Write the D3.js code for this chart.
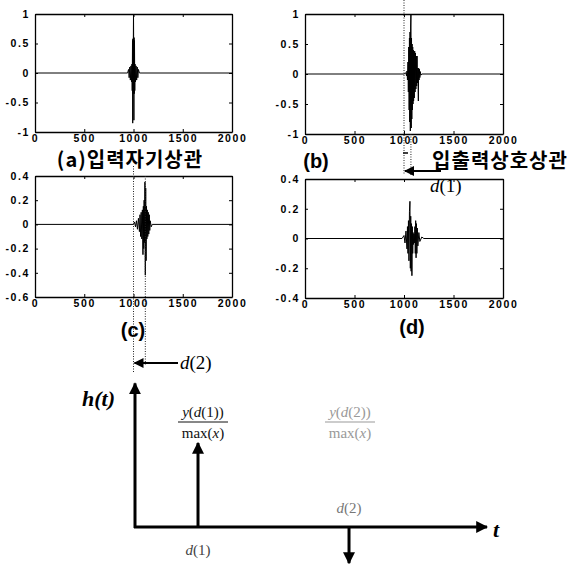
<!DOCTYPE html>
<html><head><meta charset="utf-8">
<script src="https://cdn.jsdelivr.net/npm/d3@7/dist/d3.min.js"></script>
<style>
body{margin:0;background:#fff;}
svg{display:block;}
.tick text{font-family:"Liberation Sans",Arial,sans-serif;font-weight:bold;font-size:10.5px;letter-spacing:1.6px;fill:#000;}
.cap{font-family:"Noto Sans CJK KR",sans-serif;font-weight:bold;font-size:20px;fill:#000;}
.capl{font-family:"Liberation Sans",Arial,sans-serif;font-weight:bold;font-size:20px;fill:#000;}
.ser{font-family:"Liberation Serif","Times New Roman",serif;}
</style></head><body>
<svg id="chart" width="577" height="564"></svg>
<script>
// ---------- data ----------
const xTicks = [0, 500, 1000, 1500, 2000];
const yTicksAB = [-1, -0.5, 0, 0.5, 1];
const yTicksC = [-0.6, -0.4, -0.2, 0, 0.2, 0.4];
const yTicksD = [-0.4, -0.2, 0, 0.2, 0.4];

// (a) input autocorrelation
const aT = [0, 940, 950, 956, 962, 968, 974, 980, 984, 987, 990, 992, 994, 996, 998, 1000, 1002, 1004, 1006, 1008, 1010, 1013, 1016, 1020, 1026, 1032, 1038, 1044, 1050, 1060, 2000];
const aV = [0, 0, 0.06, -0.08, 0.1, -0.12, 0.12, -0.15, 0.15, -0.3, 0.55, -0.85, 0.58, -0.35, 0.45, 1.0, 0.45, -0.8, 0.6, -0.35, 0.55, -0.3, 0.15, -0.15, 0.12, -0.12, 0.1, -0.08, 0.06, 0, 0];
// (b) input-output cross correlation
const bT = [0, 1000, 1020, 1025, 1030, 1035, 1040, 1044, 1048, 1052, 1055, 1058, 1061, 1064, 1067, 1070, 1073, 1076, 1079, 1082, 1085, 1088, 1091, 1094, 1097, 1100, 1104, 1108, 1112, 1116, 1120, 1124, 1128, 1132, 1136, 1140, 1145, 1148, 1152, 1156, 1160, 1165, 1170, 1180, 2000];
const bV = [0, 0, 0.02, -0.03, 0.05, -0.1, 0.2, -0.3, 0.45, -0.6, 0.6, -0.8, 0.7, -0.95, 0.8, 1.0, -0.9, 0.6, -0.75, 0.5, -0.6, 0.45, -0.5, 0.4, -0.45, 0.38, -0.4, 0.38, -0.3, 0.35, -0.25, 0.3, -0.2, 0.3, -0.15, 0.1, -0.45, 0.1, -0.1, 0.08, -0.06, 0.04, -0.02, 0, 0];
// (c)
const cT = [0, 1000, 1010, 1020, 1030, 1040, 1050, 1060, 1066, 1072, 1078, 1084, 1090, 1096, 1100, 1104, 1108, 1112, 1116, 1120, 1124, 1128, 1132, 1136, 1140, 1145, 1150, 1155, 1160, 1165, 1170, 1180, 1190, 2000];
const cV = [0, 0, 0.02, -0.02, 0.03, -0.04, 0.05, -0.06, 0.08, -0.1, 0.1, -0.12, 0.12, -0.25, 0.15, -0.2, 0.2, -0.15, 0.35, -0.42, 0.3, -0.3, 0.15, -0.12, 0.12, -0.1, 0.1, -0.08, 0.08, -0.05, 0.03, -0.02, 0, 0];
// (d)
const dT = [0, 980, 1000, 1010, 1020, 1030, 1035, 1040, 1045, 1050, 1055, 1060, 1064, 1068, 1072, 1076, 1080, 1084, 1088, 1092, 1096, 1100, 1105, 1110, 1114, 1118, 1122, 1126, 1130, 1135, 1140, 1150, 1160, 1180, 1200, 2000];
const dV = [0, 0, 0.02, -0.03, 0.05, -0.07, 0.08, -0.1, 0.12, -0.15, 0.18, 0.25, -0.2, 0.15, -0.22, 0.1, -0.25, 0.08, -0.1, 0.04, -0.04, 0.03, -0.03, 0.08, -0.1, 0.12, -0.13, 0.1, -0.1, 0.07, -0.05, 0.04, -0.02, 0.01, 0, 0];

// impulse response sketch
const impulseT = [0.179, 0.608];
const impulseH = [1, -0.43];

// ---------- drawing ----------
const svg = d3.select("#chart");
svg.append("rect").attr("width", 577).attr("height", 564).attr("fill", "#fff");

const defs = svg.append("defs");
defs.append("marker").attr("id", "ah").attr("viewBox", "0 0 10 10")
  .attr("refX", 9).attr("refY", 5).attr("markerWidth", 4).attr("markerHeight", 4)
  .attr("markerUnits", "strokeWidth").attr("orient", "auto")
  .append("path").attr("d", "M0,0 L10,5 L0,10 z").attr("fill", "#000");
defs.append("marker").attr("id", "ah2").attr("viewBox", "0 0 10 10")
  .attr("refX", 9).attr("refY", 5).attr("markerWidth", 7).attr("markerHeight", 5)
  .attr("markerUnits", "strokeWidth").attr("orient", "auto")
  .append("path").attr("d", "M0,0 L10,5 L0,10 z").attr("fill", "#000");

function panel(x0, x1, y0, y1, yDom, yTicks, T, V) {
  const x = d3.scaleLinear().domain([0, 2000]).range([x0, x1]);
  const y = d3.scaleLinear().domain(yDom).range([y1, y0]);
  const g = svg.append("g");
  const fmt = d => (d === 0 ? "0" : String(d));
  g.append("g").attr("transform", `translate(0,${y1})`)
    .call(d3.axisBottom(x).tickValues(xTicks).tickSizeInner(-3).tickSizeOuter(0).tickPadding(3).tickFormat(fmt));
  g.append("g").attr("transform", `translate(0,${y0})`)
    .call(d3.axisTop(x).tickValues(xTicks).tickSizeInner(-3).tickSizeOuter(0).tickFormat(""));
  g.append("g").attr("transform", `translate(${x0},0)`)
    .call(d3.axisLeft(y).tickValues(yTicks).tickSizeInner(-3).tickSizeOuter(0).tickPadding(5).tickFormat(fmt));
  g.append("g").attr("transform", `translate(${x1},0)`)
    .call(d3.axisRight(y).tickValues(yTicks).tickSizeInner(-3).tickSizeOuter(0).tickFormat(""));
  g.selectAll(".domain").attr("stroke", "#000").attr("stroke-width", 1.3);
  g.selectAll(".tick line").attr("stroke", "#000");
  const pts = T.map((t, i) => [t, V[i]]);
  g.append("path").datum(pts)
    .attr("d", d3.line().x(d => x(d[0])).y(d => y(d[1])))
    .attr("fill", "none").attr("stroke", "#000").attr("stroke-width", 1);
  return {x, y};
}

const pa = panel(35, 232, 14, 132, [-1, 1], yTicksAB, aT, aV);
const pb = panel(305, 503, 14, 134, [-1, 1], yTicksAB, bT, bV);
const pc = panel(35, 232, 176, 297, [-0.6, 0.4], yTicksC, cT, cV);
const pd = panel(305, 503, 179, 298, [-0.4, 0.4], yTicksD, dT, dV);

// captions
svg.append("text").attr("class", "cap").attr("x", 130).attr("y", 167).attr("text-anchor", "middle")
  .attr("letter-spacing", "1px").text("(a)입력자기상관");
svg.append("text").attr("class", "capl").attr("x", 316).attr("y", 168).attr("text-anchor", "middle").text("(b)");
svg.append("text").attr("class", "cap").attr("x", 500).attr("y", 168).attr("text-anchor", "middle")
  .attr("letter-spacing", "1px").text("입출력상호상관");
svg.append("line").attr("x1", 403).attr("x2", 408).attr("y1", 153).attr("y2", 153).attr("stroke", "#000").attr("stroke-width", 1.5);
svg.append("text").attr("class", "capl").attr("x", 133).attr("y", 337).attr("text-anchor", "middle").text("(c)");
svg.append("text").attr("class", "capl").attr("x", 412).attr("y", 334).attr("text-anchor", "middle").text("(d)");

// dotted guides & delay arrows
function dotted(xp, ya, yb) {
  svg.append("line").attr("x1", xp).attr("x2", xp).attr("y1", ya).attr("y2", yb)
    .attr("stroke", "#222").attr("stroke-width", 1).attr("stroke-dasharray", "1,1.5");
}
dotted(pb.x(1000), 0, 174);
dotted(pb.x(1070), 134, 176);
dotted(pc.x(1000), 166, 372);
dotted(pc.x(1120), 176, 366);

svg.append("line").attr("x1", 441).attr("x2", pb.x(1000) + 1).attr("y1", 171).attr("y2", 171)
  .attr("stroke", "#000").attr("stroke-width", 2).attr("marker-end", "url(#ah2)");
svg.append("text").attr("class", "ser").attr("x", 430).attr("y", 192).attr("font-size", 19)
  .html('<tspan font-style="italic">d</tspan>(1)');
svg.append("line").attr("x1", 178).attr("x2", pc.x(1000) + 1).attr("y1", 363).attr("y2", 363)
  .attr("stroke", "#000").attr("stroke-width", 2).attr("marker-end", "url(#ah2)");
svg.append("text").attr("class", "ser").attr("x", 180).attr("y", 369).attr("font-size", 19)
  .html('<tspan font-style="italic">d</tspan>(2)');

// ---------- impulse response diagram ----------
const tx = d3.scaleLinear().domain([0, 1]).range([135, 487]);
const hy = d3.scaleLinear().domain([0, 1]).range([527, 443]);
svg.append("line").attr("x1", tx(0)).attr("x2", tx(0)).attr("y1", hy(0) + 1).attr("y2", hy(1.71))
  .attr("stroke", "#000").attr("stroke-width", 3).attr("marker-end", "url(#ah)");
svg.append("line").attr("x1", tx(0) - 1).attr("x2", tx(1)).attr("y1", hy(0)).attr("y2", hy(0))
  .attr("stroke", "#000").attr("stroke-width", 3).attr("marker-end", "url(#ah)");
impulseT.forEach((t, i) => {
  svg.append("line").attr("x1", tx(t)).attr("x2", tx(t)).attr("y1", hy(0)).attr("y2", hy(impulseH[i]))
    .attr("stroke", "#000").attr("stroke-width", 3).attr("marker-end", "url(#ah)");
});
svg.append("text").attr("class", "ser").attr("x", 82).attr("y", 406).attr("font-size", 22)
  .attr("font-weight", "bold").attr("font-style", "italic").text("h(t)");
svg.append("text").attr("class", "ser").attr("x", 493).attr("y", 537).attr("font-size", 22)
  .attr("font-weight", "bold").attr("font-style", "italic").text("t");

svg.append("text").attr("class", "ser").attr("x", tx(impulseT[0])).attr("y", 555).attr("font-size", 15)
  .attr("text-anchor", "middle").attr("fill", "#444")
  .html('<tspan font-style="italic">d</tspan>(1)');
svg.append("text").attr("class", "ser").attr("x", tx(impulseT[1])).attr("y", 513).attr("font-size", 15)
  .attr("text-anchor", "middle").attr("fill", "#777")
  .html('<tspan font-style="italic">d</tspan>(2)');

function frac(cx, k, col) {
  svg.append("text").attr("class", "ser").attr("x", cx).attr("y", 417).attr("font-size", 15)
    .attr("text-anchor", "middle").attr("fill", col)
    .html(`<tspan font-style="italic">y</tspan>(<tspan font-style="italic">d</tspan>(${k}))`);
  svg.append("line").attr("x1", cx - 25).attr("x2", cx + 25).attr("y1", 422).attr("y2", 422)
    .attr("stroke", col).attr("stroke-width", 1);
  svg.append("text").attr("class", "ser").attr("x", cx).attr("y", 438).attr("font-size", 15)
    .attr("text-anchor", "middle").attr("fill", col)
    .html('max(<tspan font-style="italic">x</tspan>)');
}
frac(203, 1, "#111");
frac(350, 2, "#999");
</script>
</body></html>
